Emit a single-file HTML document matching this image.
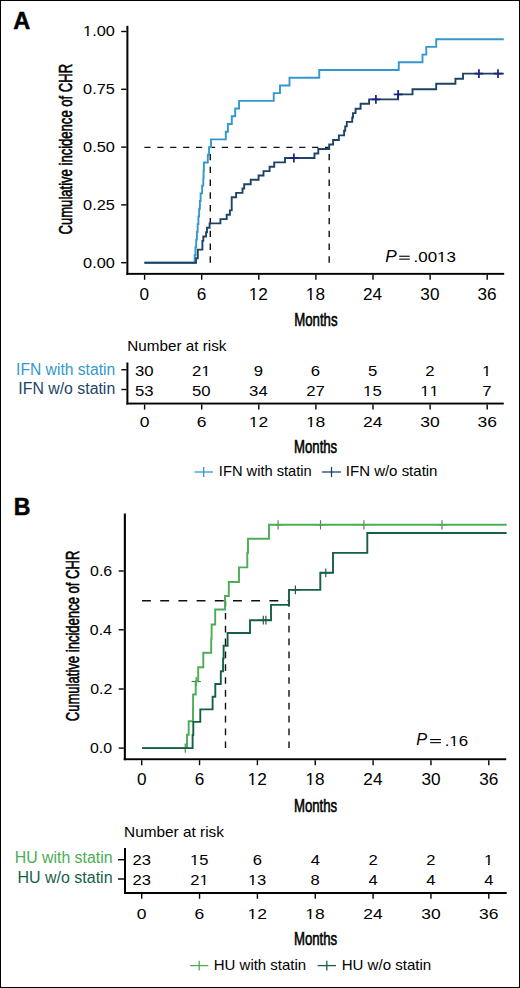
<!DOCTYPE html>
<html><head><meta charset="utf-8"><title>CHR cumulative incidence</title>
<style>
html,body{margin:0;padding:0;background:#fff;}
svg{display:block;}
text{font-family:"Liberation Sans",sans-serif;font-kerning:none;}
</style></head><body>
<svg width="520" height="988" viewBox="0 0 520 988">
<rect x="0" y="0" width="520" height="988" fill="#fff"/>
<rect x="0.5" y="0.5" width="519" height="987" fill="none" stroke="#000" stroke-width="1"/>
<text x="13.21" y="29.30" font-size="24" font-weight="bold" font-style="normal" fill="#000" textLength="17.01" lengthAdjust="spacingAndGlyphs" stroke="#000" stroke-width="0.5">A</text>
<g transform="translate(72.0,233.8) rotate(-90)"><text x="-0.66" y="0" font-size="18.5" font-weight="normal" stroke="#000" stroke-width="0.6" textLength="170.57" lengthAdjust="spacingAndGlyphs">Cumulative incidence of CHR</text></g>
<rect x="126.40" y="25.80" width="2.00" height="249.00" fill="#000"/>
<rect x="126.40" y="272.90" width="377.80" height="1.90" fill="#000"/>
<line x1="121.20" y1="31.50" x2="126.40" y2="31.50" stroke="#000" stroke-width="1.4"/>
<text x="83.08" y="36.30" font-size="15.25" font-weight="normal" font-style="normal" fill="#000" textLength="31.76" lengthAdjust="spacingAndGlyphs">1.00</text>
<rect x="83.27" y="34.66" width="3.81" height="2.44" fill="#fff"/>
<rect x="88.72" y="34.66" width="3.28" height="2.44" fill="#fff"/>
<line x1="121.20" y1="89.30" x2="126.40" y2="89.30" stroke="#000" stroke-width="1.4"/>
<text x="83.13" y="94.10" font-size="15.25" font-weight="normal" font-style="normal" fill="#000" textLength="31.76" lengthAdjust="spacingAndGlyphs">0.75</text>
<line x1="121.20" y1="147.10" x2="126.40" y2="147.10" stroke="#000" stroke-width="1.4"/>
<text x="83.08" y="151.90" font-size="15.25" font-weight="normal" font-style="normal" fill="#000" textLength="31.76" lengthAdjust="spacingAndGlyphs">0.50</text>
<line x1="121.20" y1="204.90" x2="126.40" y2="204.90" stroke="#000" stroke-width="1.4"/>
<text x="83.13" y="209.70" font-size="15.25" font-weight="normal" font-style="normal" fill="#000" textLength="31.76" lengthAdjust="spacingAndGlyphs">0.25</text>
<line x1="121.20" y1="262.70" x2="126.40" y2="262.70" stroke="#000" stroke-width="1.4"/>
<text x="83.08" y="267.50" font-size="15.25" font-weight="normal" font-style="normal" fill="#000" textLength="31.76" lengthAdjust="spacingAndGlyphs">0.00</text>
<line x1="144.60" y1="274.80" x2="144.60" y2="279.80" stroke="#000" stroke-width="1.4"/>
<text x="139.62" y="299.70" font-size="15.7" font-weight="normal" font-style="normal" fill="#000" textLength="9.56" lengthAdjust="spacingAndGlyphs">0</text>
<line x1="201.70" y1="274.80" x2="201.70" y2="279.80" stroke="#000" stroke-width="1.4"/>
<text x="196.66" y="299.70" font-size="15.7" font-weight="normal" font-style="normal" fill="#000" textLength="9.56" lengthAdjust="spacingAndGlyphs">6</text>
<line x1="258.80" y1="274.80" x2="258.80" y2="279.80" stroke="#000" stroke-width="1.4"/>
<text x="248.82" y="299.70" font-size="15.7" font-weight="normal" font-style="normal" fill="#000" textLength="19.12" lengthAdjust="spacingAndGlyphs">12</text>
<rect x="249.08" y="298.03" width="3.96" height="2.47" fill="#fff"/>
<rect x="254.76" y="298.03" width="3.43" height="2.47" fill="#fff"/>
<line x1="315.90" y1="274.80" x2="315.90" y2="279.80" stroke="#000" stroke-width="1.4"/>
<text x="305.86" y="299.70" font-size="15.7" font-weight="normal" font-style="normal" fill="#000" textLength="19.12" lengthAdjust="spacingAndGlyphs">18</text>
<rect x="306.12" y="298.03" width="3.96" height="2.47" fill="#fff"/>
<rect x="311.80" y="298.03" width="3.43" height="2.47" fill="#fff"/>
<line x1="373.00" y1="274.80" x2="373.00" y2="279.80" stroke="#000" stroke-width="1.4"/>
<text x="363.06" y="299.70" font-size="15.7" font-weight="normal" font-style="normal" fill="#000" textLength="19.12" lengthAdjust="spacingAndGlyphs">24</text>
<line x1="430.10" y1="274.80" x2="430.10" y2="279.80" stroke="#000" stroke-width="1.4"/>
<text x="420.35" y="299.70" font-size="15.7" font-weight="normal" font-style="normal" fill="#000" textLength="19.12" lengthAdjust="spacingAndGlyphs">30</text>
<line x1="487.20" y1="274.80" x2="487.20" y2="279.80" stroke="#000" stroke-width="1.4"/>
<text x="477.49" y="299.70" font-size="15.7" font-weight="normal" font-style="normal" fill="#000" textLength="19.12" lengthAdjust="spacingAndGlyphs">36</text>
<text x="294.22" y="325.70" font-size="18.4" font-weight="normal" font-style="normal" fill="#000" textLength="43.36" lengthAdjust="spacingAndGlyphs" stroke="#000" stroke-width="0.6">Months</text>
<text x="385.27" y="262.10" font-size="15.8" font-weight="normal" font-style="italic" fill="#000" textLength="11.44" lengthAdjust="spacingAndGlyphs">P</text>
<rect x="399.20" y="255.70" width="10.50" height="1.10" fill="#000"/>
<rect x="399.20" y="258.60" width="10.50" height="1.10" fill="#000"/>
<text x="413.55" y="262.30" font-size="15.4" font-weight="normal" font-style="normal" fill="#000" textLength="42.39" lengthAdjust="spacingAndGlyphs">.0013</text>
<rect x="437.34" y="260.65" width="3.92" height="2.45" fill="#fff"/>
<rect x="442.96" y="260.65" width="3.39" height="2.45" fill="#fff"/>
<path d="M144.4,147.4H329.2" stroke="#111" stroke-width="1.4" stroke-dasharray="6.2 6.7" fill="none"/>
<path d="M210.3,262.7V147.1" stroke="#111" stroke-width="1.4" stroke-dasharray="6.4 6.4" fill="none"/>
<path d="M329.2,262.7V147.1" stroke="#111" stroke-width="1.4" stroke-dasharray="6.4 6.4" fill="none"/>
<path d="M144.40,262.70H194.70V254.99H195.44V247.29H196.18V239.58H196.92V231.87H197.66V224.16H198.40V216.46H199.14V208.75H199.88V201.04H200.62V193.34H202.10V185.63H203.30V177.92H203.60V170.22H203.90V162.51H207.80V154.80H209.10V147.09H211.00V139.39H225.80V131.68H227.90V123.97H231.80V116.27H235.20V108.56H239.10V100.85H273.75V93.15H280.00V85.44H289.50V77.73H319.25V70.03H398.75V62.32H422.50V54.61H426.25V46.90H436.20V39.20H503.80" fill="none" stroke="#3399cc" stroke-width="1.9" stroke-linejoin="miter" stroke-linecap="butt"/>
<path d="M144.40,262.70H196.10V258.30H197.80V249.60H202.40V240.90H203.30V236.50H206.10V232.20H207.00V227.80H209.60V223.40H220.40V219.10H226.70V214.70H229.90V210.40H231.70V197.30H236.10V192.90H242.50V188.50H244.20V184.20H250.70V179.80H258.60V175.50H263.50V171.10H269.60V166.70H274.20V162.40H285.00V158.00H314.50V153.50H318.30V149.00H329.20V144.50H333.10V140.00H338.90V135.40H344.10V130.80H345.20V126.40H346.80V121.90H352.20V117.50H353.00V113.10H355.60V108.70H360.60V103.80H369.10V99.40H398.10V94.40H412.50V89.30H436.20V83.70H455.40V78.80H463.00V73.60H503.80" fill="none" stroke="#1d4466" stroke-width="1.9" stroke-linejoin="miter" stroke-linecap="butt"/>
<line x1="293.90" y1="153.60" x2="293.90" y2="162.40" stroke="#1a1f80" stroke-width="1.7"/>
<line x1="289.50" y1="158.00" x2="298.30" y2="158.00" stroke="#1a1f80" stroke-width="1.7"/>
<line x1="375.90" y1="95.00" x2="375.90" y2="103.80" stroke="#1a1f80" stroke-width="1.7"/>
<line x1="371.50" y1="99.40" x2="380.30" y2="99.40" stroke="#1a1f80" stroke-width="1.7"/>
<line x1="398.10" y1="90.00" x2="398.10" y2="98.80" stroke="#1a1f80" stroke-width="1.7"/>
<line x1="393.70" y1="94.40" x2="402.50" y2="94.40" stroke="#1a1f80" stroke-width="1.7"/>
<line x1="478.90" y1="69.20" x2="478.90" y2="78.00" stroke="#1a1f80" stroke-width="1.7"/>
<line x1="474.50" y1="73.60" x2="483.30" y2="73.60" stroke="#1a1f80" stroke-width="1.7"/>
<line x1="498.00" y1="69.20" x2="498.00" y2="78.00" stroke="#1a1f80" stroke-width="1.7"/>
<line x1="493.60" y1="73.60" x2="502.40" y2="73.60" stroke="#1a1f80" stroke-width="1.7"/>
<text x="127.35" y="350.50" font-size="15" font-weight="normal" font-style="normal" fill="#000" textLength="99.03" lengthAdjust="spacingAndGlyphs">Number at risk</text>
<text x="16.06" y="374.60" font-size="16" font-weight="normal" font-style="normal" fill="#3399cc" textLength="99.16" lengthAdjust="spacingAndGlyphs">IFN with statin</text>
<text x="18.34" y="394.10" font-size="16" font-weight="normal" font-style="normal" fill="#1d4466" textLength="96.89" lengthAdjust="spacingAndGlyphs">IFN w/o statin</text>
<rect x="126.40" y="362.50" width="2.00" height="42.00" fill="#000"/>
<rect x="126.40" y="402.60" width="377.40" height="1.90" fill="#000"/>
<line x1="121.40" y1="369.70" x2="126.40" y2="369.70" stroke="#000" stroke-width="1.4"/>
<line x1="121.40" y1="389.50" x2="126.40" y2="389.50" stroke="#000" stroke-width="1.4"/>
<text x="135.01" y="375.80" font-size="14.8" font-weight="normal" font-style="normal" fill="#000" textLength="18.60" lengthAdjust="spacingAndGlyphs">30</text>
<text x="135.03" y="395.60" font-size="14.8" font-weight="normal" font-style="normal" fill="#000" textLength="18.60" lengthAdjust="spacingAndGlyphs">53</text>
<line x1="144.60" y1="404.50" x2="144.60" y2="409.60" stroke="#000" stroke-width="1.4"/>
<text x="139.74" y="426.70" font-size="15" font-weight="normal" font-style="normal" fill="#000" textLength="9.72" lengthAdjust="spacingAndGlyphs">0</text>
<text x="192.09" y="375.80" font-size="14.8" font-weight="normal" font-style="normal" fill="#000" textLength="18.60" lengthAdjust="spacingAndGlyphs">21</text>
<rect x="201.61" y="374.19" width="3.88" height="2.41" fill="#fff"/>
<rect x="207.17" y="374.19" width="3.35" height="2.41" fill="#fff"/>
<text x="192.09" y="395.60" font-size="14.8" font-weight="normal" font-style="normal" fill="#000" textLength="18.60" lengthAdjust="spacingAndGlyphs">50</text>
<line x1="201.70" y1="404.50" x2="201.70" y2="409.60" stroke="#000" stroke-width="1.4"/>
<text x="196.78" y="426.70" font-size="15" font-weight="normal" font-style="normal" fill="#000" textLength="9.72" lengthAdjust="spacingAndGlyphs">6</text>
<text x="253.85" y="375.80" font-size="14.8" font-weight="normal" font-style="normal" fill="#000" textLength="9.30" lengthAdjust="spacingAndGlyphs">9</text>
<text x="249.13" y="395.60" font-size="14.8" font-weight="normal" font-style="normal" fill="#000" textLength="18.60" lengthAdjust="spacingAndGlyphs">34</text>
<line x1="258.80" y1="404.50" x2="258.80" y2="409.60" stroke="#000" stroke-width="1.4"/>
<text x="248.86" y="426.70" font-size="15" font-weight="normal" font-style="normal" fill="#000" textLength="19.44" lengthAdjust="spacingAndGlyphs">12</text>
<rect x="249.14" y="425.08" width="4.01" height="2.42" fill="#fff"/>
<rect x="254.89" y="425.08" width="3.48" height="2.42" fill="#fff"/>
<text x="310.89" y="375.80" font-size="14.8" font-weight="normal" font-style="normal" fill="#000" textLength="9.30" lengthAdjust="spacingAndGlyphs">6</text>
<text x="306.30" y="395.60" font-size="14.8" font-weight="normal" font-style="normal" fill="#000" textLength="18.60" lengthAdjust="spacingAndGlyphs">27</text>
<line x1="315.90" y1="404.50" x2="315.90" y2="409.60" stroke="#000" stroke-width="1.4"/>
<text x="305.90" y="426.70" font-size="15" font-weight="normal" font-style="normal" fill="#000" textLength="19.44" lengthAdjust="spacingAndGlyphs">18</text>
<rect x="306.18" y="425.08" width="4.01" height="2.42" fill="#fff"/>
<rect x="311.93" y="425.08" width="3.48" height="2.42" fill="#fff"/>
<text x="368.07" y="375.80" font-size="14.8" font-weight="normal" font-style="normal" fill="#000" textLength="9.30" lengthAdjust="spacingAndGlyphs">5</text>
<text x="363.11" y="395.60" font-size="14.8" font-weight="normal" font-style="normal" fill="#000" textLength="18.60" lengthAdjust="spacingAndGlyphs">15</text>
<rect x="363.34" y="393.99" width="3.88" height="2.41" fill="#fff"/>
<rect x="368.90" y="393.99" width="3.35" height="2.41" fill="#fff"/>
<line x1="373.00" y1="404.50" x2="373.00" y2="409.60" stroke="#000" stroke-width="1.4"/>
<text x="363.10" y="426.70" font-size="15" font-weight="normal" font-style="normal" fill="#000" textLength="19.44" lengthAdjust="spacingAndGlyphs">24</text>
<text x="425.15" y="375.80" font-size="14.8" font-weight="normal" font-style="normal" fill="#000" textLength="9.30" lengthAdjust="spacingAndGlyphs">2</text>
<text x="420.27" y="395.60" font-size="14.8" font-weight="normal" font-style="normal" fill="#000" textLength="18.60" lengthAdjust="spacingAndGlyphs">11</text>
<rect x="420.50" y="393.99" width="3.88" height="2.41" fill="#fff"/>
<rect x="426.05" y="393.99" width="3.35" height="2.41" fill="#fff"/>
<rect x="429.80" y="393.99" width="3.88" height="2.41" fill="#fff"/>
<rect x="435.35" y="393.99" width="3.35" height="2.41" fill="#fff"/>
<line x1="430.10" y1="404.50" x2="430.10" y2="409.60" stroke="#000" stroke-width="1.4"/>
<text x="420.39" y="426.70" font-size="15" font-weight="normal" font-style="normal" fill="#000" textLength="19.44" lengthAdjust="spacingAndGlyphs">30</text>
<text x="482.02" y="375.80" font-size="14.8" font-weight="normal" font-style="normal" fill="#000" textLength="9.30" lengthAdjust="spacingAndGlyphs">1</text>
<rect x="482.25" y="374.19" width="3.88" height="2.41" fill="#fff"/>
<rect x="487.80" y="374.19" width="3.35" height="2.41" fill="#fff"/>
<text x="482.24" y="395.60" font-size="14.8" font-weight="normal" font-style="normal" fill="#000" textLength="9.30" lengthAdjust="spacingAndGlyphs">7</text>
<line x1="487.20" y1="404.50" x2="487.20" y2="409.60" stroke="#000" stroke-width="1.4"/>
<text x="477.53" y="426.70" font-size="15" font-weight="normal" font-style="normal" fill="#000" textLength="19.44" lengthAdjust="spacingAndGlyphs">36</text>
<text x="294.12" y="452.90" font-size="18.0" font-weight="normal" font-style="normal" fill="#000" textLength="43.05" lengthAdjust="spacingAndGlyphs" stroke="#000" stroke-width="0.6">Months</text>
<line x1="194.50" y1="472.00" x2="213.00" y2="472.00" stroke="#3399cc" stroke-width="1.3"/>
<line x1="203.70" y1="467.00" x2="203.70" y2="477.00" stroke="#3399cc" stroke-width="1.3"/>
<text x="218.85" y="476.10" font-size="15" font-weight="normal" font-style="normal" fill="#000" textLength="92.91" lengthAdjust="spacingAndGlyphs">IFN with statin</text>
<line x1="322.10" y1="472.00" x2="341.00" y2="472.00" stroke="#1d4466" stroke-width="1.3"/>
<line x1="331.50" y1="467.00" x2="331.50" y2="477.00" stroke="#1d4466" stroke-width="1.3"/>
<text x="345.82" y="476.10" font-size="15" font-weight="normal" font-style="normal" fill="#000" textLength="91.66" lengthAdjust="spacingAndGlyphs">IFN w/o statin</text>
<text x="13.65" y="514.70" font-size="24" font-weight="bold" font-style="normal" fill="#000" textLength="16.70" lengthAdjust="spacingAndGlyphs" stroke="#000" stroke-width="0.5">B</text>
<g transform="translate(79.4,720.6) rotate(-90)"><text x="-0.66" y="0" font-size="18.5" font-weight="normal" stroke="#000" stroke-width="0.6" textLength="170.67" lengthAdjust="spacingAndGlyphs">Cumulative incidence of CHR</text></g>
<rect x="123.80" y="513.50" width="2.10" height="246.70" fill="#000"/>
<rect x="123.80" y="758.30" width="382.40" height="1.90" fill="#000"/>
<line x1="118.70" y1="571.00" x2="123.80" y2="571.00" stroke="#000" stroke-width="1.4"/>
<text x="90.10" y="576.10" font-size="15" font-weight="normal" font-style="normal" fill="#000" textLength="22.10" lengthAdjust="spacingAndGlyphs">0.6</text>
<line x1="118.70" y1="629.80" x2="123.80" y2="629.80" stroke="#000" stroke-width="1.4"/>
<text x="89.86" y="634.90" font-size="15" font-weight="normal" font-style="normal" fill="#000" textLength="22.10" lengthAdjust="spacingAndGlyphs">0.4</text>
<line x1="118.70" y1="689.00" x2="123.80" y2="689.00" stroke="#000" stroke-width="1.4"/>
<text x="90.20" y="694.10" font-size="15" font-weight="normal" font-style="normal" fill="#000" textLength="22.10" lengthAdjust="spacingAndGlyphs">0.2</text>
<line x1="118.70" y1="748.10" x2="123.80" y2="748.10" stroke="#000" stroke-width="1.4"/>
<text x="90.02" y="753.20" font-size="15" font-weight="normal" font-style="normal" fill="#000" textLength="22.10" lengthAdjust="spacingAndGlyphs">0.0</text>
<line x1="141.70" y1="760.20" x2="141.70" y2="765.20" stroke="#000" stroke-width="1.4"/>
<text x="136.92" y="785.00" font-size="15.7" font-weight="normal" font-style="normal" fill="#000" textLength="9.56" lengthAdjust="spacingAndGlyphs">0</text>
<line x1="199.55" y1="760.20" x2="199.55" y2="765.20" stroke="#000" stroke-width="1.4"/>
<text x="194.71" y="785.00" font-size="15.7" font-weight="normal" font-style="normal" fill="#000" textLength="9.56" lengthAdjust="spacingAndGlyphs">6</text>
<line x1="257.40" y1="760.20" x2="257.40" y2="765.20" stroke="#000" stroke-width="1.4"/>
<text x="247.62" y="785.00" font-size="15.7" font-weight="normal" font-style="normal" fill="#000" textLength="19.12" lengthAdjust="spacingAndGlyphs">12</text>
<rect x="247.88" y="783.33" width="3.96" height="2.47" fill="#fff"/>
<rect x="253.56" y="783.33" width="3.43" height="2.47" fill="#fff"/>
<line x1="315.25" y1="760.20" x2="315.25" y2="765.20" stroke="#000" stroke-width="1.4"/>
<text x="305.41" y="785.00" font-size="15.7" font-weight="normal" font-style="normal" fill="#000" textLength="19.12" lengthAdjust="spacingAndGlyphs">18</text>
<rect x="305.67" y="783.33" width="3.96" height="2.47" fill="#fff"/>
<rect x="311.35" y="783.33" width="3.43" height="2.47" fill="#fff"/>
<line x1="373.10" y1="760.20" x2="373.10" y2="765.20" stroke="#000" stroke-width="1.4"/>
<text x="363.36" y="785.00" font-size="15.7" font-weight="normal" font-style="normal" fill="#000" textLength="19.12" lengthAdjust="spacingAndGlyphs">24</text>
<line x1="430.95" y1="760.20" x2="430.95" y2="765.20" stroke="#000" stroke-width="1.4"/>
<text x="421.40" y="785.00" font-size="15.7" font-weight="normal" font-style="normal" fill="#000" textLength="19.12" lengthAdjust="spacingAndGlyphs">30</text>
<line x1="488.80" y1="760.20" x2="488.80" y2="765.20" stroke="#000" stroke-width="1.4"/>
<text x="479.29" y="785.00" font-size="15.7" font-weight="normal" font-style="normal" fill="#000" textLength="19.12" lengthAdjust="spacingAndGlyphs">36</text>
<text x="293.92" y="811.70" font-size="18.4" font-weight="normal" font-style="normal" fill="#000" textLength="43.26" lengthAdjust="spacingAndGlyphs" stroke="#000" stroke-width="0.6">Months</text>
<text x="416.30" y="745.40" font-size="15.8" font-weight="normal" font-style="italic" fill="#000" textLength="10.91" lengthAdjust="spacingAndGlyphs">P</text>
<rect x="430.20" y="739.00" width="10.70" height="1.10" fill="#000"/>
<rect x="430.20" y="742.10" width="10.70" height="1.10" fill="#000"/>
<text x="444.66" y="745.60" font-size="15.2" font-weight="normal" font-style="normal" fill="#000" textLength="23.48" lengthAdjust="spacingAndGlyphs">.16</text>
<rect x="449.59" y="743.96" width="3.91" height="2.44" fill="#fff"/>
<rect x="455.19" y="743.96" width="3.38" height="2.44" fill="#fff"/>
<path d="M142.0,600.8H289.0" stroke="#111" stroke-width="1.4" stroke-dasharray="8.9 9.3" fill="none"/>
<path d="M225.5,748.1V600.8" stroke="#111" stroke-width="1.4" stroke-dasharray="6.7 6.15" fill="none"/>
<path d="M289.0,748.1V600.8" stroke="#111" stroke-width="1.4" stroke-dasharray="6.7 6.15" fill="none"/>
<line x1="185.25" y1="743.50" x2="185.25" y2="752.70" stroke="#4a7d52" stroke-width="1.15"/>
<line x1="180.65" y1="748.10" x2="189.85" y2="748.10" stroke="#4a7d52" stroke-width="1.15"/>
<line x1="196.20" y1="676.90" x2="196.20" y2="686.10" stroke="#4a7d52" stroke-width="1.15"/>
<line x1="191.60" y1="681.50" x2="200.80" y2="681.50" stroke="#4a7d52" stroke-width="1.15"/>
<line x1="278.10" y1="520.20" x2="278.10" y2="529.40" stroke="#4a7d52" stroke-width="1.15"/>
<line x1="273.50" y1="524.80" x2="282.70" y2="524.80" stroke="#4a7d52" stroke-width="1.15"/>
<line x1="320.50" y1="520.20" x2="320.50" y2="529.40" stroke="#4a7d52" stroke-width="1.15"/>
<line x1="315.90" y1="524.80" x2="325.10" y2="524.80" stroke="#4a7d52" stroke-width="1.15"/>
<line x1="363.90" y1="520.20" x2="363.90" y2="529.40" stroke="#4a7d52" stroke-width="1.15"/>
<line x1="359.30" y1="524.80" x2="368.50" y2="524.80" stroke="#4a7d52" stroke-width="1.15"/>
<line x1="442.00" y1="520.20" x2="442.00" y2="529.40" stroke="#4a7d52" stroke-width="1.15"/>
<line x1="437.40" y1="524.80" x2="446.60" y2="524.80" stroke="#4a7d52" stroke-width="1.15"/>
<line x1="263.30" y1="615.80" x2="263.30" y2="624.60" stroke="#2c5444" stroke-width="1.2"/>
<line x1="258.90" y1="620.20" x2="267.70" y2="620.20" stroke="#2c5444" stroke-width="1.2"/>
<line x1="265.90" y1="615.80" x2="265.90" y2="624.60" stroke="#2c5444" stroke-width="1.2"/>
<line x1="261.50" y1="620.20" x2="270.30" y2="620.20" stroke="#2c5444" stroke-width="1.2"/>
<line x1="295.40" y1="585.50" x2="295.40" y2="594.30" stroke="#2c5444" stroke-width="1.2"/>
<line x1="291.00" y1="589.90" x2="299.80" y2="589.90" stroke="#2c5444" stroke-width="1.2"/>
<line x1="325.80" y1="568.40" x2="325.80" y2="577.20" stroke="#2c5444" stroke-width="1.2"/>
<line x1="321.40" y1="572.80" x2="330.20" y2="572.80" stroke="#2c5444" stroke-width="1.2"/>
<path d="M142.00,748.10H187.00V734.80H188.70V721.30H193.00V708.00H193.10V694.50H195.70V681.40H198.20V667.20H203.30V652.80H211.20V638.60H211.60V624.50H215.20V609.50H225.00V596.00H228.80V582.00H239.00V567.40H247.30V552.80H248.00V538.80H269.00V524.80H506.60" fill="none" stroke="#4cad54" stroke-width="1.9" stroke-linejoin="miter" stroke-linecap="butt"/>
<path d="M142.00,748.10H192.60V735.00H193.30V721.90H200.30V709.40H212.60V696.80H215.30V684.00H220.80V671.30H223.10V658.50H223.60V645.70H227.60V633.00H250.00V620.20H271.00V604.90H289.00V589.90H320.30V572.80H333.00V552.90H367.30V533.00H506.60" fill="none" stroke="#165f47" stroke-width="1.9" stroke-linejoin="miter" stroke-linecap="butt"/>
<text x="124.04" y="836.60" font-size="15" font-weight="normal" font-style="normal" fill="#000" textLength="99.94" lengthAdjust="spacingAndGlyphs">Number at risk</text>
<text x="14.70" y="863.10" font-size="16" font-weight="normal" font-style="normal" fill="#4cad54" textLength="97.83" lengthAdjust="spacingAndGlyphs">HU with statin</text>
<text x="17.49" y="882.50" font-size="16" font-weight="normal" font-style="normal" fill="#165f47" textLength="95.05" lengthAdjust="spacingAndGlyphs">HU w/o statin</text>
<rect x="124.00" y="848.00" width="2.00" height="46.00" fill="#000"/>
<rect x="124.00" y="892.00" width="382.70" height="2.00" fill="#000"/>
<line x1="118.00" y1="859.70" x2="124.00" y2="859.70" stroke="#000" stroke-width="1.4"/>
<line x1="118.00" y1="879.00" x2="124.00" y2="879.00" stroke="#000" stroke-width="1.4"/>
<text x="132.43" y="865.00" font-size="14.8" font-weight="normal" font-style="normal" fill="#000" textLength="18.44" lengthAdjust="spacingAndGlyphs">23</text>
<text x="132.43" y="884.75" font-size="14.8" font-weight="normal" font-style="normal" fill="#000" textLength="18.44" lengthAdjust="spacingAndGlyphs">23</text>
<line x1="141.70" y1="894.00" x2="141.70" y2="898.80" stroke="#000" stroke-width="1.4"/>
<text x="136.84" y="919.00" font-size="15" font-weight="normal" font-style="normal" fill="#000" textLength="9.72" lengthAdjust="spacingAndGlyphs">0</text>
<text x="190.05" y="865.00" font-size="14.8" font-weight="normal" font-style="normal" fill="#000" textLength="18.44" lengthAdjust="spacingAndGlyphs">15</text>
<rect x="190.26" y="863.39" width="3.85" height="2.41" fill="#fff"/>
<rect x="195.78" y="863.39" width="3.32" height="2.41" fill="#fff"/>
<text x="190.32" y="884.75" font-size="14.8" font-weight="normal" font-style="normal" fill="#000" textLength="18.44" lengthAdjust="spacingAndGlyphs">21</text>
<rect x="199.75" y="883.14" width="3.85" height="2.41" fill="#fff"/>
<rect x="205.27" y="883.14" width="3.32" height="2.41" fill="#fff"/>
<line x1="199.55" y1="894.00" x2="199.55" y2="898.80" stroke="#000" stroke-width="1.4"/>
<text x="194.63" y="919.00" font-size="15" font-weight="normal" font-style="normal" fill="#000" textLength="9.72" lengthAdjust="spacingAndGlyphs">6</text>
<text x="252.73" y="865.00" font-size="14.8" font-weight="normal" font-style="normal" fill="#000" textLength="9.22" lengthAdjust="spacingAndGlyphs">6</text>
<text x="247.91" y="884.75" font-size="14.8" font-weight="normal" font-style="normal" fill="#000" textLength="18.44" lengthAdjust="spacingAndGlyphs">13</text>
<rect x="248.13" y="883.14" width="3.85" height="2.41" fill="#fff"/>
<rect x="253.65" y="883.14" width="3.32" height="2.41" fill="#fff"/>
<line x1="257.40" y1="894.00" x2="257.40" y2="898.80" stroke="#000" stroke-width="1.4"/>
<text x="247.46" y="919.00" font-size="15" font-weight="normal" font-style="normal" fill="#000" textLength="19.44" lengthAdjust="spacingAndGlyphs">12</text>
<rect x="247.74" y="917.38" width="4.01" height="2.42" fill="#fff"/>
<rect x="253.49" y="917.38" width="3.48" height="2.42" fill="#fff"/>
<text x="310.69" y="865.00" font-size="14.8" font-weight="normal" font-style="normal" fill="#000" textLength="9.22" lengthAdjust="spacingAndGlyphs">4</text>
<text x="310.64" y="884.75" font-size="14.8" font-weight="normal" font-style="normal" fill="#000" textLength="9.22" lengthAdjust="spacingAndGlyphs">8</text>
<line x1="315.25" y1="894.00" x2="315.25" y2="898.80" stroke="#000" stroke-width="1.4"/>
<text x="305.25" y="919.00" font-size="15" font-weight="normal" font-style="normal" fill="#000" textLength="19.44" lengthAdjust="spacingAndGlyphs">18</text>
<rect x="305.53" y="917.38" width="4.01" height="2.42" fill="#fff"/>
<rect x="311.28" y="917.38" width="3.48" height="2.42" fill="#fff"/>
<text x="368.49" y="865.00" font-size="14.8" font-weight="normal" font-style="normal" fill="#000" textLength="9.22" lengthAdjust="spacingAndGlyphs">2</text>
<text x="368.54" y="884.75" font-size="14.8" font-weight="normal" font-style="normal" fill="#000" textLength="9.22" lengthAdjust="spacingAndGlyphs">4</text>
<line x1="373.10" y1="894.00" x2="373.10" y2="898.80" stroke="#000" stroke-width="1.4"/>
<text x="363.20" y="919.00" font-size="15" font-weight="normal" font-style="normal" fill="#000" textLength="19.44" lengthAdjust="spacingAndGlyphs">24</text>
<text x="426.34" y="865.00" font-size="14.8" font-weight="normal" font-style="normal" fill="#000" textLength="9.22" lengthAdjust="spacingAndGlyphs">2</text>
<text x="426.39" y="884.75" font-size="14.8" font-weight="normal" font-style="normal" fill="#000" textLength="9.22" lengthAdjust="spacingAndGlyphs">4</text>
<line x1="430.95" y1="894.00" x2="430.95" y2="898.80" stroke="#000" stroke-width="1.4"/>
<text x="421.24" y="919.00" font-size="15" font-weight="normal" font-style="normal" fill="#000" textLength="19.44" lengthAdjust="spacingAndGlyphs">30</text>
<text x="483.96" y="865.00" font-size="14.8" font-weight="normal" font-style="normal" fill="#000" textLength="9.22" lengthAdjust="spacingAndGlyphs">1</text>
<rect x="484.18" y="863.39" width="3.85" height="2.41" fill="#fff"/>
<rect x="489.70" y="863.39" width="3.32" height="2.41" fill="#fff"/>
<text x="484.24" y="884.75" font-size="14.8" font-weight="normal" font-style="normal" fill="#000" textLength="9.22" lengthAdjust="spacingAndGlyphs">4</text>
<line x1="488.80" y1="894.00" x2="488.80" y2="898.80" stroke="#000" stroke-width="1.4"/>
<text x="479.13" y="919.00" font-size="15" font-weight="normal" font-style="normal" fill="#000" textLength="19.44" lengthAdjust="spacingAndGlyphs">36</text>
<text x="293.92" y="945.40" font-size="18.0" font-weight="normal" font-style="normal" fill="#000" textLength="43.26" lengthAdjust="spacingAndGlyphs" stroke="#000" stroke-width="0.6">Months</text>
<line x1="190.20" y1="965.60" x2="208.30" y2="965.60" stroke="#4cad54" stroke-width="1.3"/>
<line x1="199.20" y1="960.80" x2="199.20" y2="970.40" stroke="#4cad54" stroke-width="1.3"/>
<text x="213.77" y="970.40" font-size="15" font-weight="normal" font-style="normal" fill="#000" textLength="92.40" lengthAdjust="spacingAndGlyphs">HU with statin</text>
<line x1="317.70" y1="965.60" x2="336.00" y2="965.60" stroke="#165f47" stroke-width="1.3"/>
<line x1="326.80" y1="960.80" x2="326.80" y2="970.40" stroke="#165f47" stroke-width="1.3"/>
<text x="341.67" y="970.40" font-size="15" font-weight="normal" font-style="normal" fill="#000" textLength="89.51" lengthAdjust="spacingAndGlyphs">HU w/o statin</text>
</svg>
</body></html>
